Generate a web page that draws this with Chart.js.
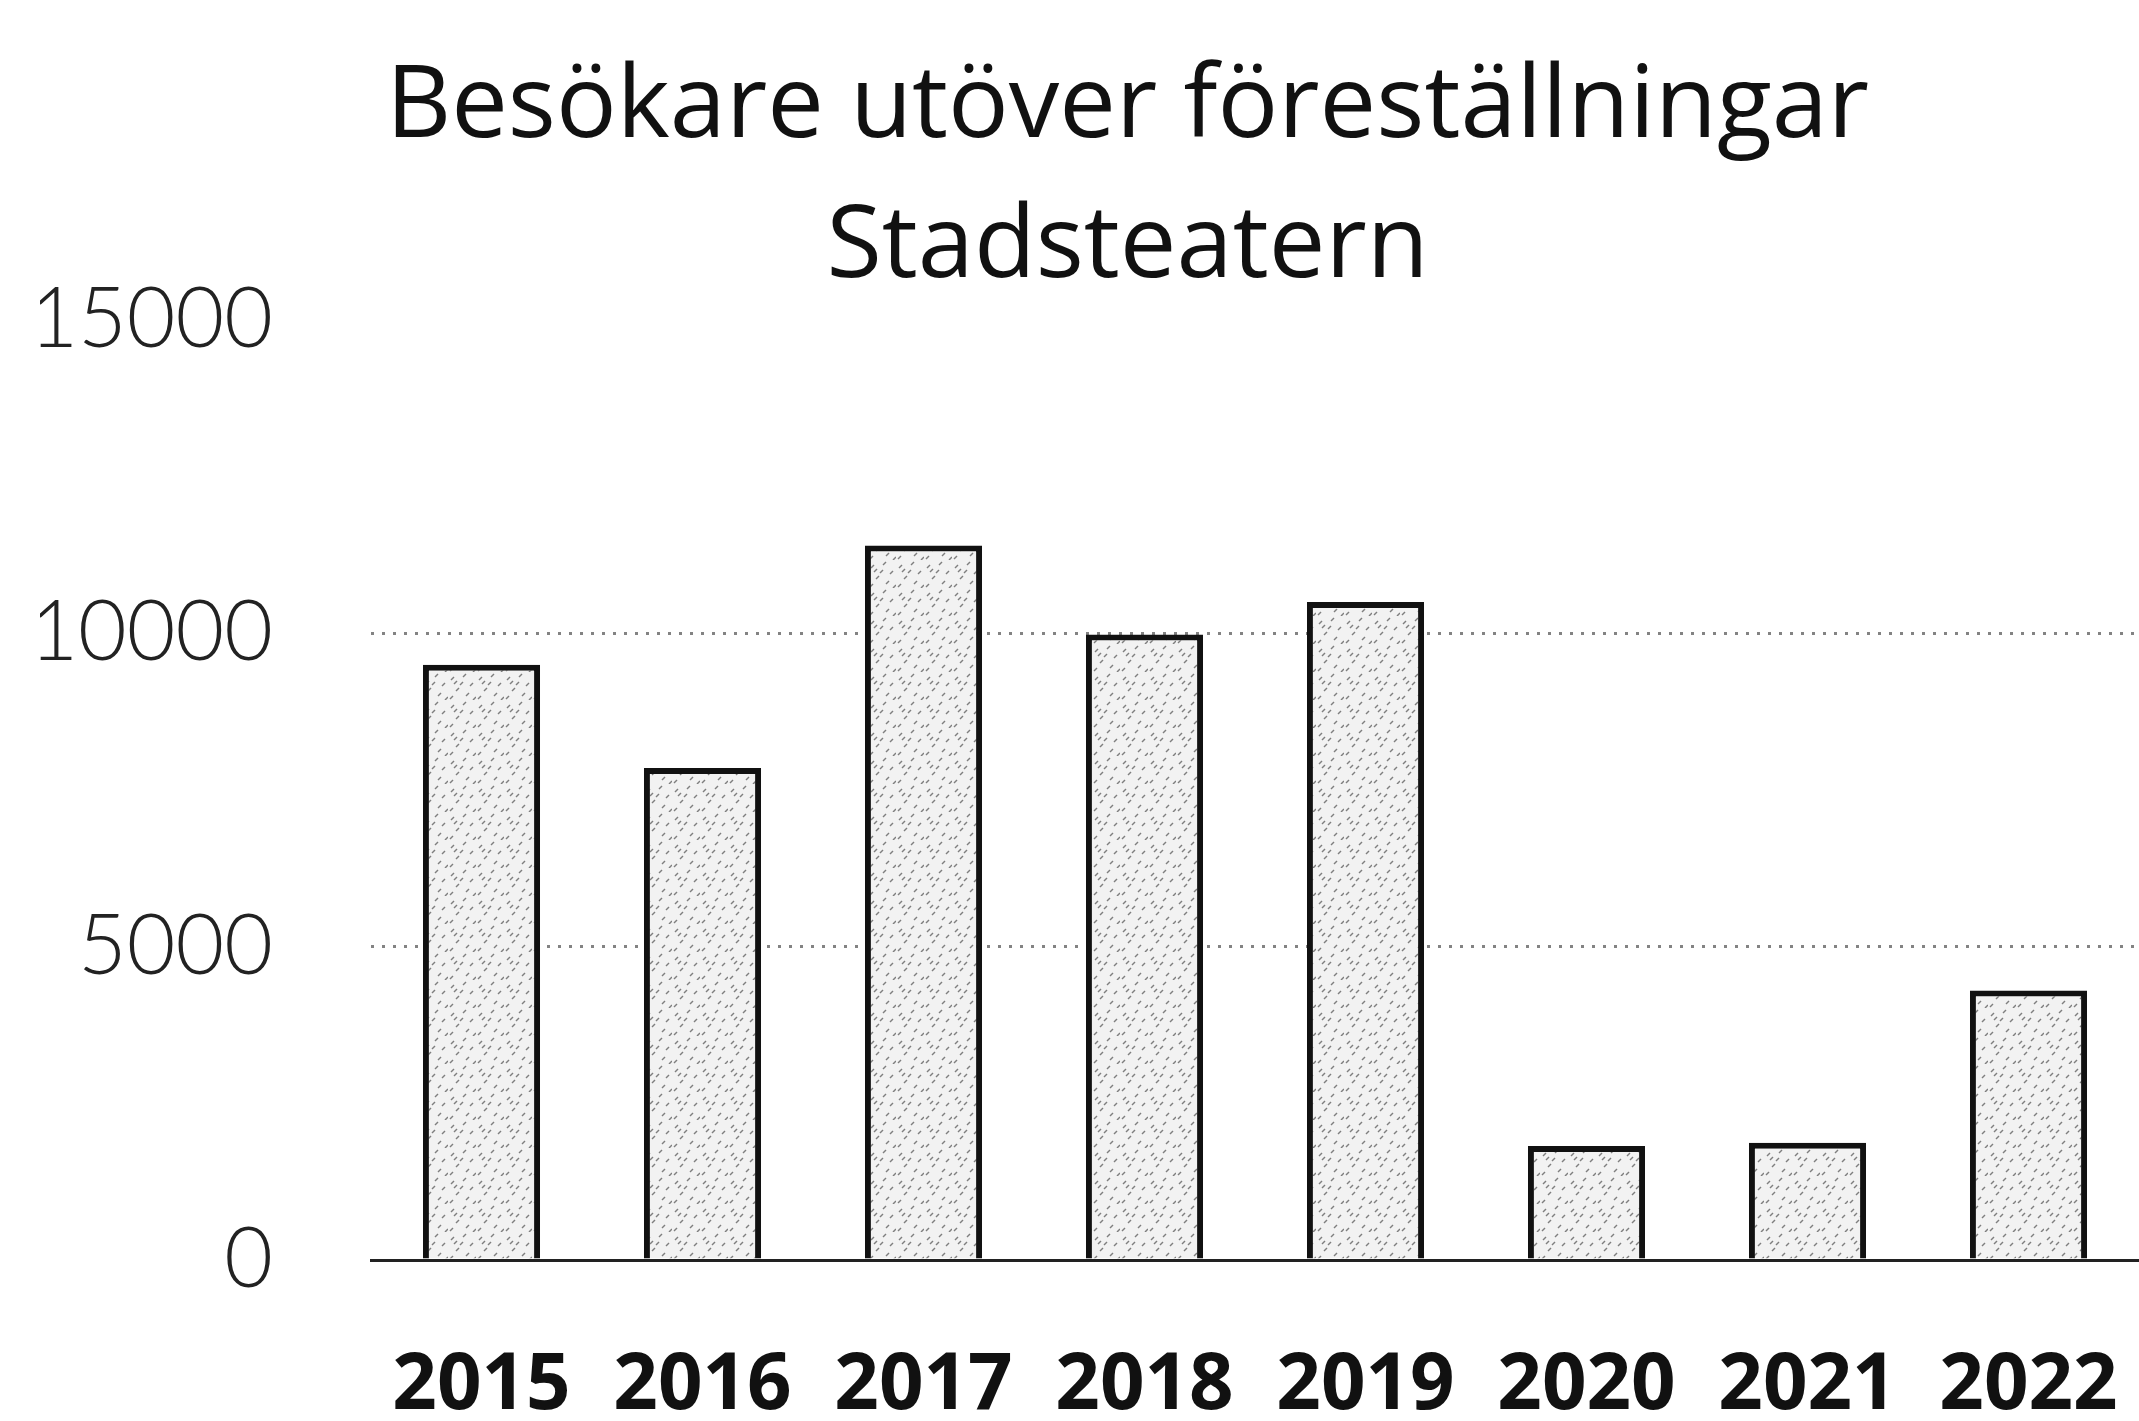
<!DOCTYPE html>
<html>
<head>
<meta charset="utf-8">
<script src="https://cdn.jsdelivr.net/npm/chart.js@4"></script>
<style>
  html, body { margin: 0; padding: 0; background: #fff; }
  #wrap { width: 2139px; height: 1421px; }
</style>
</head>
<body>
<div id="wrap"><canvas id="chart"></canvas></div>
<script>
// ---------------- DATA ----------------
const years = ["2015", "2016", "2017", "2018", "2019", "2020", "2021", "2022"];
const visitors = [9500, 7850, 11400, 9980, 10500, 1820, 1870, 4300];
const yTicks = [0, 5000, 10000, 15000];
const titleLines = ["Besökare utöver föreställningar", "Stadsteatern"];

// ---------------- SPECKLED FILL ----------------
function speckle() {
    const c = document.createElement("canvas");
    c.width = 28; c.height = 28;
    const g = c.getContext("2d");
    g.fillStyle = "#f2f2f2";
    g.fillRect(0, 0, 28, 28);
    g.strokeStyle = "rgba(50,50,50,0.6)";
    g.lineWidth = 1.5;
    const marks = [[3, 5], [15, 2], [22, 11], [8, 16], [18, 21], [2, 24], [12, 10], [25, 25], [6, 9]];
    marks.forEach(([x, y]) => {
        g.beginPath();
        g.moveTo(x, y + 3);
        g.lineTo(x + 3, y);
        g.stroke();
    });
    return g.createPattern(c, "repeat");
}

// title sits a bit right of the canvas centre in the original
const shiftTitle = {
    id: "shiftTitle",
    afterLayout(chart) {
        if (chart.titleBlock) chart.titleBlock.left += 76;
    }
};

// ---------------- CHART ----------------
new Chart(document.getElementById("chart"), {
    type: "bar",
    data: {
        labels: years,
        datasets: [{
            data: visitors,
            backgroundColor: speckle(),
            borderColor: "#111",
            borderWidth: 6,
            categoryPercentage: 1,
            barPercentage: 0.53
        }]
    },
    plugins: [shiftTitle],
    options: {
        responsive: true,
        maintainAspectRatio: false,
        animation: false,
        layout: { padding: { left: 40, right: 0, top: 0, bottom: 0 } },
        plugins: {
            legend: { display: false },
            tooltip: { enabled: false },
            title: {
                display: true,
                text: titleLines,
                color: "#111",
                font: { family: "Open Sans", size: 101, weight: "normal", lineHeight: 1.386 },
                padding: { top: 38, bottom: 2 }
            }
        },
        scales: {
            x: {
                afterFit: (axis) => {
                    axis.height = 161;
                    axis.paddingLeft = 0;
                    axis.paddingRight = 0;
                },
                grid: { display: false, drawTicks: false },
                border: { display: true, color: "#222", width: 3, dash: [4, 3] },
                ticks: {
                    color: "#111",
                    padding: 80,
                    maxRotation: 0,
                    font: { family: "Open Sans", size: 78, weight: "bold" }
                }
            },
            y: {
                min: 0,
                max: 15000,
                afterFit: (axis) => { axis.width = 331; },
                afterBuildTicks: (axis) => { axis.ticks = yTicks.map(v => ({ value: v })); },
                grid: {
                    drawTicks: false,
                    lineWidth: 3,
                    color: (ctx) => (ctx.tick && (ctx.tick.value === 5000 || ctx.tick.value === 10000))
                        ? "rgba(30,30,30,0.55)" : "rgba(0,0,0,0)"
                },
                border: { display: false, dash: [3, 8] },
                ticks: {
                    color: "#222",
                    padding: 98,
                    callback: (v) => String(v),
                    font: { family: "Lato", size: 84, weight: 300 }
                }
            }
        }
    }
});
</script>
</body>
</html>
